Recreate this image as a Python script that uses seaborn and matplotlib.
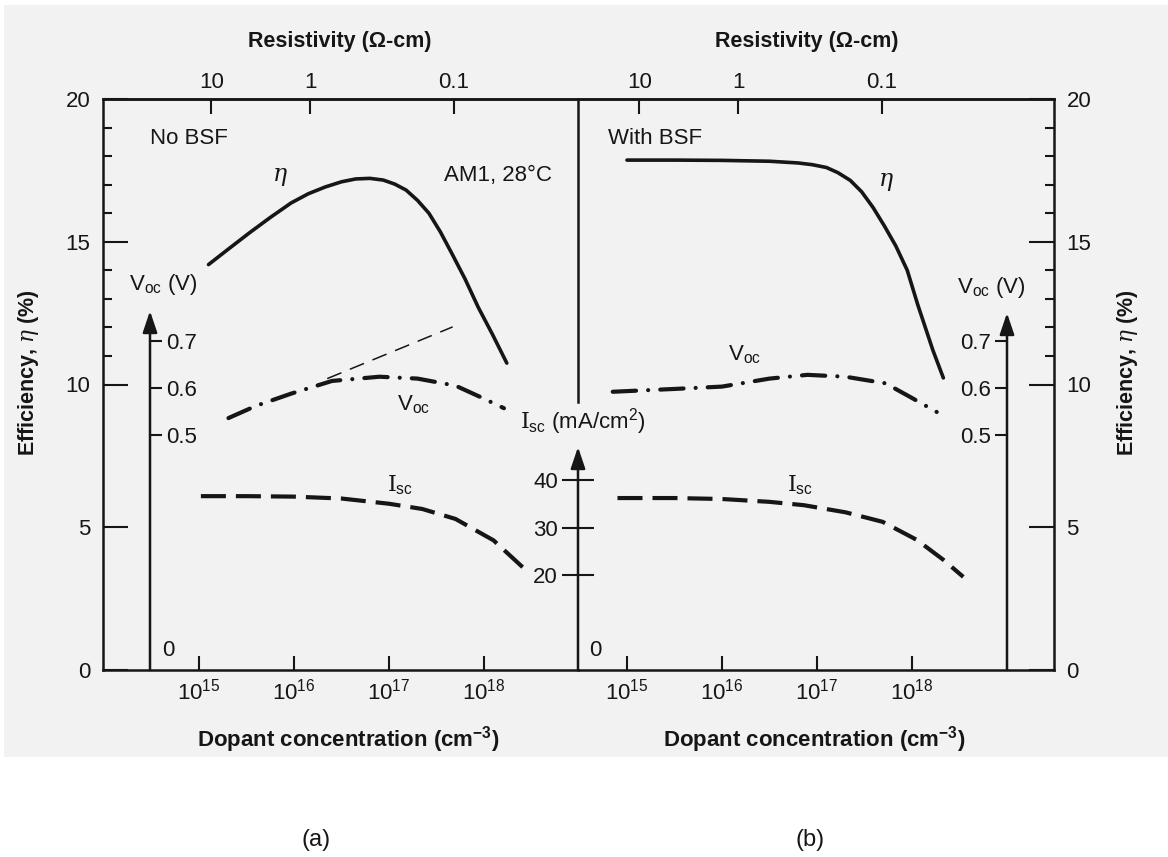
import numpy as np
import matplotlib
matplotlib.use("Agg")
import matplotlib.pyplot as plt
from matplotlib.patches import Rectangle
from matplotlib.ticker import FixedLocator, NullLocator
import seaborn as sns

# ---------------------------------------------------------------------------
# Solar-cell parameters versus base dopant concentration.
# x values are log10 of the dopant concentration (cm^-3).
# ---------------------------------------------------------------------------
# (a) cell without back-surface field
eta_a_logN = [15.10, 15.30, 15.53, 15.75, 15.97, 16.15, 16.33, 16.50, 16.65, 16.80,
              16.94, 17.06, 17.18, 17.30, 17.42, 17.54, 17.66, 17.80, 17.94, 18.09, 18.24]
eta_a = [14.2, 14.72, 15.31, 15.85, 16.36, 16.68, 16.92, 17.10, 17.20, 17.22,
         17.16, 17.02, 16.81, 16.45, 16.0, 15.35, 14.6, 13.7, 12.7, 11.75, 10.75]
voc_a_logN = [15.31, 15.60, 15.97, 16.40, 16.90, 17.30, 17.70, 17.96, 18.21]
voc_a = [0.536, 0.562, 0.588, 0.615, 0.624, 0.620, 0.605, 0.581, 0.557]
isc_a_logN = [15.02, 15.50, 16.00, 16.50, 17.00, 17.35, 17.70, 18.10, 18.48]
isc_a = [36.6, 36.6, 36.5, 36.1, 35.0, 33.9, 31.8, 27.3, 20.3]
voc_ideal_logN = [16.35, 17.67]
voc_ideal = [0.620, 0.730]

# (b) cell with back-surface field
eta_b_logN = [15.00, 15.50, 16.00, 16.50, 16.80, 16.95, 17.10, 17.22, 17.35, 17.47,
              17.59, 17.71, 17.83, 17.95, 18.06, 18.14, 18.22, 18.33]
eta_b = [17.86, 17.86, 17.85, 17.82, 17.76, 17.70, 17.60, 17.42, 17.15, 16.75,
         16.20, 15.55, 14.85, 14.00, 12.80, 12.00, 11.20, 10.23]
voc_b_logN = [14.85, 15.50, 16.00, 16.50, 16.90, 17.30, 17.72, 17.98, 18.26]
voc_b = [0.592, 0.598, 0.603, 0.620, 0.628, 0.624, 0.610, 0.581, 0.549]
isc_b_logN = [14.90, 15.50, 16.00, 16.50, 16.86, 17.30, 17.69, 18.05, 18.33, 18.54]
isc_b = [36.2, 36.2, 36.0, 35.4, 34.7, 33.2, 31.2, 27.4, 23.2, 19.6]

# axis ticks and labels
eta_major = [0, 5, 10, 15, 20]
eta_minor = [11, 12, 13, 14, 16, 17, 18, 19]
voc_ticks = [0.5, 0.6, 0.7]
isc_ticks = [20, 30, 40]
dopant_ticks_log = [15, 16, 17, 18]
resistivity_labels = ["10", "1", "0.1"]
resistivity_at_logN = [15.13, 16.17, 17.68]

# ---------------------------------------------------------------------------
sns.set_theme(style="white")
plt.rcParams["font.family"] = ["Liberation Sans", "DejaVu Sans"]
plt.rcParams.update({
    "mathtext.fontset": "custom",
    "mathtext.rm": "DejaVu Serif",
    "mathtext.it": "DejaVu Serif:italic",
    "mathtext.sf": "Liberation Sans",
    "mathtext.bf": "Liberation Sans:bold",
    "axes.linewidth": 1.8,
})

INK = "#161616"
PAPER = "#f2f2f2"
TICK_FS = 16
W, H = 1168, 857
fig = plt.figure(figsize=(W / 100, H / 100), dpi=100)
fig.patch.set_facecolor("white")


def fx(p):
    return p / W


def fy(p):
    return 1 - p / H


# page tone of the printed figure
fig.patches.append(Rectangle((fx(4), fy(757)), 1 - fx(4), fy(5) - fy(757),
                             transform=fig.transFigure, facecolor=PAPER,
                             edgecolor="none", zorder=-5))

Y_BOT, Y_TOP = 670, 99          # pixel rows of eta = 0 and eta = 20
PX_DEC = 95                     # pixels per decade of doping
VOLT_PX = 470                   # pixels per volt on the Voc scale
ISC_PX = 4.75                   # pixels per mA/cm^2 on the Isc scale
voc_top = (Y_BOT - Y_TOP) / VOLT_PX
isc_top = (Y_BOT - Y_TOP) / ISC_PX
TICK_W = 1.5


def logN_at(px, px15):
    return 15 + (px - px15) / PX_DEC


def panel(x0, x1):
    ax = fig.add_axes([fx(x0), fy(Y_BOT), fx(x1) - fx(x0), fy(Y_TOP) - fy(Y_BOT)])
    ax.set_facecolor("none")
    ax.set_xscale("log")
    return ax


def draw(ax, logN, vals, lw, ls, cap="butt"):
    sns.lineplot(x=10 ** np.asarray(logN), y=vals, ax=ax, color=INK,
                 linewidth=lw, estimator=None, sort=False, legend=False)
    ln = ax.lines[-1]
    ln.set_linestyle(ls)
    ln.set_dash_capstyle(cap)
    ln.set_solid_capstyle("round")
    ln.set_solid_joinstyle("round")


def style_main(ax, x0, x1, px15, side):
    ax.set_xlim(10 ** logN_at(x0, px15), 10 ** logN_at(x1, px15))
    ax.set_ylim(0, 20)
    for s in ax.spines.values():
        s.set_color(INK)
        s.set_linewidth(1.8)
    ax.spines["right" if side == "left" else "left"].set_visible(False)
    if side == "left":
        ax.yaxis.tick_left()
    else:
        ax.yaxis.tick_right()
    ax.yaxis.set_major_locator(FixedLocator(eta_major))
    ax.yaxis.set_minor_locator(FixedLocator(eta_minor))
    ax.set_yticklabels([str(v) for v in eta_major])
    ax.tick_params(axis="y", which="major", direction="in", length=18,
                   width=TICK_W, pad=9, labelsize=TICK_FS, colors=INK)
    ax.tick_params(axis="y", which="minor", direction="in", length=6.5,
                   width=TICK_W, colors=INK)
    ax.set_xticks([10.0 ** v for v in dopant_ticks_log])
    ax.set_xticklabels([r"10$^{\mathsf{%d}}$" % v for v in dopant_ticks_log])
    ax.xaxis.set_minor_locator(NullLocator())
    ax.tick_params(axis="x", which="major", bottom=True, top=False,
                   direction="in", length=10, width=TICK_W, pad=6,
                   labelsize=TICK_FS, colors=INK)
    sec = ax.secondary_xaxis("top")
    sec.set_xticks([10.0 ** v for v in resistivity_at_logN])
    sec.set_xticklabels(resistivity_labels)
    sec.xaxis.set_minor_locator(NullLocator())
    sec.tick_params(axis="x", top=True, direction="in", length=11, width=TICK_W,
                    pad=4, labelsize=TICK_FS, colors=INK)
    sec.spines["top"].set_linewidth(1.8)
    sec.spines["top"].set_color(INK)


def bare_twin(ax, top):
    tw = ax.twinx()
    tw.set_ylim(0, top)
    for s in tw.spines.values():
        s.set_visible(False)
    tw.yaxis.set_minor_locator(NullLocator())
    return tw


arrow_kw = dict(arrowstyle="-|>,head_length=0.65,head_width=0.22", lw=1.8,
                color=INK, shrinkA=0, shrinkB=0, mutation_scale=20)

# ---------------- panel (a) -------------------------------------------------
A0, A1, A15 = 103, 578, 199
axA = panel(A0, A1)
draw(axA, eta_a_logN, eta_a, 2.6, "-")

vA = bare_twin(axA, voc_top)
vA.yaxis.tick_right()
vA_x = (150 - A0) / (A1 - A0)
vA.spines["right"].set_position(("axes", vA_x))
vA.set_yticks(voc_ticks)
vA.set_yticklabels(["0.5", "0.6", "0.7"])
vA.tick_params(axis="y", right=True, direction="out", length=8.5, width=TICK_W,
               pad=3, labelsize=TICK_FS, colors=INK)
vA.annotate("", xy=(vA_x, (Y_BOT - 311) / VOLT_PX), xytext=(vA_x, 0),
            xycoords=vA.get_yaxis_transform(), textcoords=vA.get_yaxis_transform(),
            arrowprops=arrow_kw)
draw(vA, voc_a_logN, voc_a, 3.0, (0, (5.6, 2.9, 0.01, 2.9)), cap="round")
draw(vA, voc_ideal_logN, voc_ideal, 1.1, (0, (10, 6)))

iA = bare_twin(axA, isc_top)
iA.yaxis.tick_left()
iA.spines["left"].set_visible(True)
iA.spines["left"].set_position(("axes", 1.0))
iA.spines["left"].set_bounds((Y_BOT - 402) / ISC_PX, isc_top)
iA.spines["left"].set_linewidth(1.8)
iA.spines["left"].set_color(INK)
iA.set_yticks(isc_ticks)
iA.set_yticklabels([str(v) for v in isc_ticks])
iA.tick_params(axis="y", left=True, direction="inout", length=23, width=TICK_W,
               pad=3, labelsize=TICK_FS, colors=INK)
iA.annotate("", xy=(1.0, (Y_BOT - 447) / ISC_PX), xytext=(1.0, 0),
            xycoords=iA.get_yaxis_transform(), textcoords=iA.get_yaxis_transform(),
            arrowprops=arrow_kw)
draw(iA, isc_a_logN, isc_a, 3.0, (0, (6, 2.4)))
style_main(axA, A0, A1, A15, "left")
axA.yaxis.tick_left()
axA.tick_params(axis="y", which="both", left=True)

# ---------------- panel (b) -------------------------------------------------
B0, B1, B15 = 578, 1054, 627
axB = panel(B0, B1)
draw(axB, eta_b_logN, eta_b, 2.6, "-")

vB = bare_twin(axB, voc_top)
vB.yaxis.tick_left()
vB_x = (1007 - B0) / (B1 - B0)
vB.spines["left"].set_position(("axes", vB_x))
vB.set_yticks(voc_ticks)
vB.set_yticklabels(["0.5", "0.6", "0.7"])
vB.tick_params(axis="y", left=True, direction="out", length=8.5, width=TICK_W,
               pad=3, labelsize=TICK_FS, colors=INK)
vB.annotate("", xy=(vB_x, (Y_BOT - 313) / VOLT_PX), xytext=(vB_x, 0),
            xycoords=vB.get_yaxis_transform(), textcoords=vB.get_yaxis_transform(),
            arrowprops=arrow_kw)
draw(vB, voc_b_logN, voc_b, 3.0, (0, (5.6, 2.9, 0.01, 2.9)), cap="round")

iB = bare_twin(axB, isc_top)
iB.set_yticks([])
draw(iB, isc_b_logN, isc_b, 3.0, (0, (6, 2.4)))
style_main(axB, B0, B1, B15, "right")
axB.yaxis.tick_right()
axB.tick_params(axis="y", which="both", right=True)


# ---------------- text ------------------------------------------------------
def label(px, py, s, size=16, **kw):
    fig.text(fx(px), fy(py), s, size=size, color=INK, ha="center", va="center", **kw)


for cx in (340, 807):
    label(cx, 42, "Resistivity (\u03a9-cm)", size=15.5, weight="bold")
for cx in (348, 814):
    label(cx, 740, r"Dopant concentration (cm$^{\mathbf{-3}}$)", size=16, weight="bold")
for cx in (29, 1127):
    label(cx, 373, r"Efficiency, $\eta$ (%)", size=15.5, weight="bold", rotation=90)

label(316, 840, "(a)", size=17)
label(810, 840, "(b)", size=17)
label(189, 138, "No BSF", size=16)
label(655, 138, "With BSF", size=16)
label(498, 175, "AM1, 28\u00b0C", size=16)
label(280, 177, r"$\eta$", size=17)
label(886, 182, r"$\eta$", size=17)
label(414, 405, r"V$_{\mathsf{oc}}$", size=16)
label(745, 355, r"V$_{\mathsf{oc}}$", size=16)
label(400, 485, r"$\mathrm{I}_{\mathsf{sc}}$", size=16)
label(800, 485, r"$\mathrm{I}_{\mathsf{sc}}$", size=16)
label(163, 285, r"V$_{\mathsf{oc}}$ (V)", size=16)
label(991, 287, r"V$_{\mathsf{oc}}$ (V)", size=16)
label(583, 422, r"$\mathrm{I}_{\mathsf{sc}}$ (mA/cm$^{\mathsf{2}}$)", size=16)
label(168, 650, "0", size=16)
label(595, 650, "0", size=16)

fig.savefig("out.png", dpi=100, facecolor="white")
